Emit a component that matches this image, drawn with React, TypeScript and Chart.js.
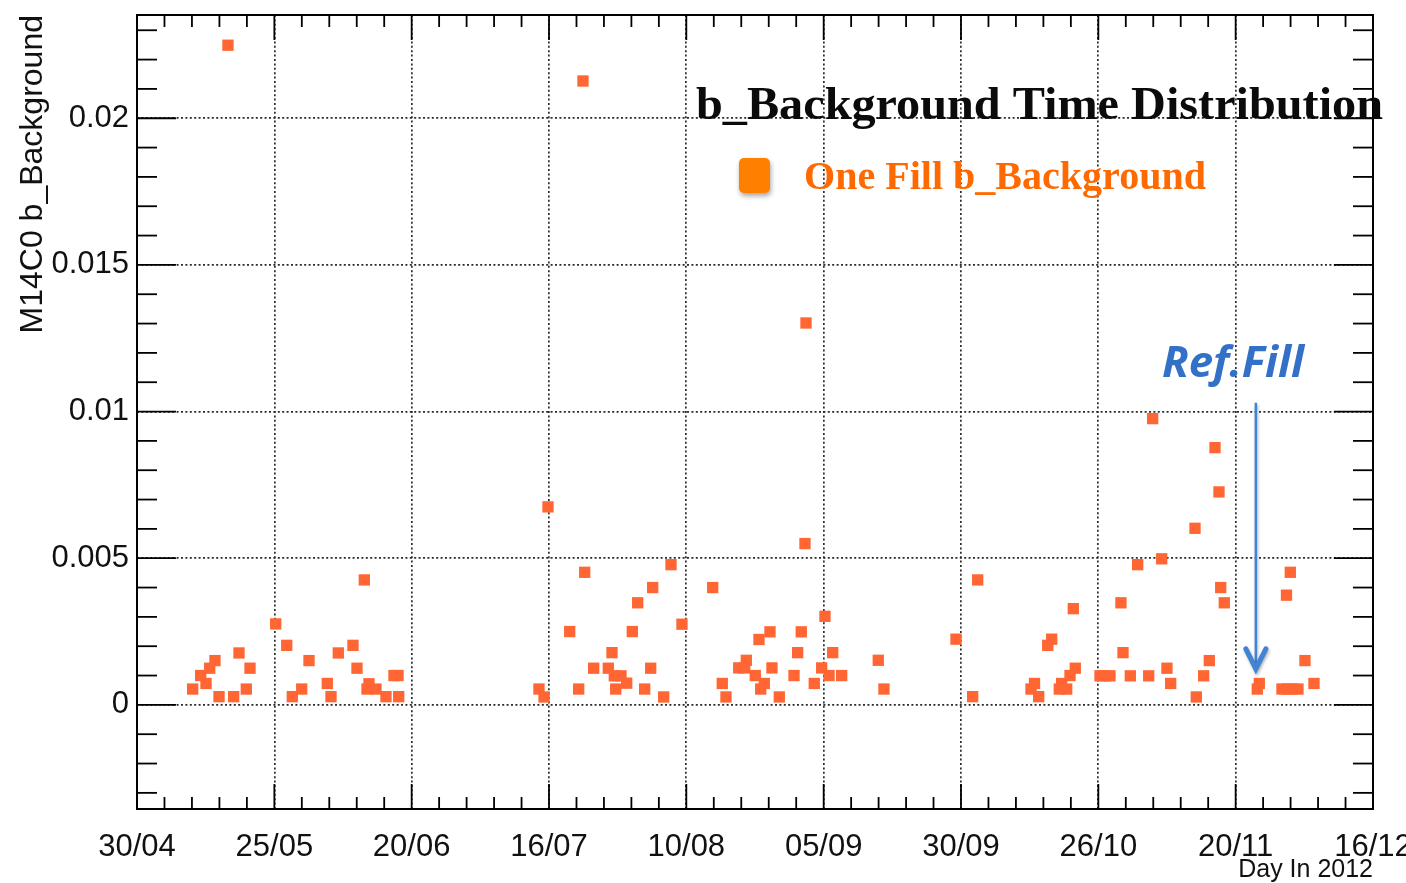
import React, { useEffect, useRef } from 'react';
import { Chart, registerables } from 'chart.js';

Chart.register(...registerables);

// Day of year 2012 for each fill (30/04 = day 121)
const fillDay: number[] = [
  131.36, 132.85, 133.84, 134.53, 135.51, 136.26, 137.93, 138.99, 139.98, 141.34,
  142.03, 146.81, 148.86, 149.9, 151.65, 153.01, 156.41, 157.1, 158.46, 161.19,
  161.94, 163.3, 163.8, 164.17, 165.47, 167.33, 168.82, 169.57, 169.7,
  195.8, 196.74, 197.48, 201.52, 203.19, 203.99, 204.31, 205.98, 208.7, 209.39,
  209.82, 210.08, 211.06, 212.12, 213.17, 214.17, 215.47, 216.59, 216.96, 219.01,
  220.37, 222.41, 228.13,
  229.91, 230.6, 232.97, 234.08, 234.38, 236.05, 236.74, 237.06, 237.73, 238.79,
  239.16, 240.52, 243.26, 243.94, 244.61, 245.3, 245.49, 247.03, 248.41, 249.02,
  249.77, 250.46, 252.13, 258.94, 260.0,
  273.4, 276.5, 277.44, 288.01, 287.36, 288.79, 290.47, 291.21, 292.62, 293.07,
  294.0, 294.62, 295.23, 295.6,
  300.2, 301.13, 302.05, 304.1, 304.48, 305.84, 307.21, 309.26, 310.0, 311.68,
  312.66, 313.35, 317.88, 318.12, 319.49, 320.54, 321.6, 322.34, 322.66, 323.33,
  329.47, 329.84, 334.06, 334.9, 334.99, 335.61, 336.1, 337.04, 338.34, 340.02,
];

const bBackground: number[] = [
  0.00054, 0.001, 0.00073, 0.00125, 0.00151, 0.00028, 0.02249, 0.00028, 0.00177, 0.00054,
  0.00125, 0.00276, 0.00203, 0.00028, 0.00054, 0.00151, 0.00073, 0.00028, 0.00177, 0.00203,
  0.00125, 0.00426, 0.00054, 0.00072, 0.00054, 0.00028, 0.001, 0.001, 0.00028,
  0.00054, 0.00027, 0.00675, 0.0025, 0.00054, 0.02127, 0.00452, 0.00125, 0.00125, 0.00178,
  0.00099, 0.00054, 0.00099, 0.00074, 0.0025, 0.00348, 0.00054, 0.00125, 0.004, 0.00027,
  0.00478, 0.00275, 0.004,
  0.00073, 0.00027, 0.00126, 0.00126, 0.00152, 0.001, 0.00223, 0.00054, 0.00073, 0.00249,
  0.00126, 0.00027, 0.001, 0.00178, 0.00249, 0.0055, 0.01302, 0.00073, 0.00126, 0.00302,
  0.001, 0.00178, 0.001, 0.00152, 0.00054,
  0.00224, 0.00028, 0.00426, 0.00073, 0.00054, 0.00028, 0.00203, 0.00224, 0.00054, 0.00073,
  0.00054, 0.001, 0.00328, 0.00125,
  0.00099, 0.00099, 0.00099, 0.00348, 0.00178, 0.00099, 0.00478, 0.00099, 0.00976, 0.00498,
  0.00125, 0.00073, 0.00602, 0.00027, 0.00099, 0.00151, 0.00877, 0.00726, 0.004, 0.00348,
  0.00054, 0.00073, 0.00054, 0.00374, 0.00054, 0.00452, 0.00054, 0.00054, 0.00151, 0.00073,
];

const xTickDays: number[] = [121, 146.56, 172.11, 197.67, 223.22, 248.78, 274.33, 299.89, 325.44, 351];
const xTickLabels: string[] = ['30/04', '25/05', '20/06', '16/07', '10/08', '05/09', '30/09', '26/10', '20/11', '16/12'];
const yTickValues: number[] = [0, 0.005, 0.01, 0.015, 0.02];
const yTickLabels: string[] = ['0', '0.005', '0.01', '0.015', '0.02'];

const X_MIN = 121;
const X_MAX = 351;
const Y_MIN = -0.00355;
const Y_MAX = 0.02352;

const refFillDay = 329.2;
const refArrowTop = 0.0103;
const refArrowTip = 0.00123;

const titleText = 'b_Background Time Distribution';
const legendText = 'One Fill b_Background';
const refText = 'Ref.Fill';

function fitText(ctx: CanvasRenderingContext2D, text: string, x: number, y: number, w: number) {
  const m = ctx.measureText(text).width;
  ctx.save();
  ctx.translate(x, y);
  ctx.scale(w / m, 1);
  ctx.fillText(text, 0, 0);
  ctx.restore();
}

const framePlugin = {
  id: 'rootFrame',
  afterDatasetsDraw(chart: any) {
    const { ctx, chartArea: a, scales } = chart;
    const x = scales.x;
    const y = scales.y;
    ctx.save();
    ctx.strokeStyle = '#000';
    ctx.lineWidth = 1.8;
    const line = (x1: number, y1: number, x2: number, y2: number) => {
      ctx.beginPath();
      ctx.moveTo(x1, y1);
      ctx.lineTo(x2, y2);
      ctx.stroke();
    };
    for (let i = 0; i < xTickDays.length; i++) {
      const v = xTickDays[i];
      const px = x.getPixelForValue(v);
      line(px, a.bottom, px, a.bottom - 25);
      line(px, a.top, px, a.top + 25);
      if (i < xTickDays.length - 1) {
        const step = (xTickDays[i + 1] - v) / 5;
        for (let k = 1; k < 5; k++) {
          const p = x.getPixelForValue(v + k * step);
          line(p, a.bottom, p, a.bottom - 12);
          line(p, a.top, p, a.top + 12);
        }
      }
    }
    for (let k = -3; k <= 23; k++) {
      const py = y.getPixelForValue(k * 0.001);
      const len = k % 5 === 0 ? 39 : 20;
      line(a.left, py, a.left + len, py);
      line(a.right, py, a.right - len, py);
    }
    ctx.lineWidth = 2;
    ctx.strokeRect(a.left, a.top, a.right - a.left, a.bottom - a.top);
    ctx.restore();

    // Title
    ctx.save();
    ctx.fillStyle = '#0b0b0b';
    ctx.textBaseline = 'alphabetic';
    ctx.textAlign = 'left';
    ctx.font = 'bold 47px "Liberation Serif", "DejaVu Serif", serif';
    fitText(ctx, titleText, 696, 119, 687);

    // Legend marker
    ctx.save();
    ctx.shadowColor = 'rgba(0,0,0,0.35)';
    ctx.shadowBlur = 5;
    ctx.shadowOffsetX = 1;
    ctx.shadowOffsetY = 3;
    ctx.fillStyle = '#FF7F00';
    ctx.beginPath();
    (ctx as any).roundRect(739, 158, 31, 35, 5);
    ctx.fill();
    ctx.restore();

    ctx.fillStyle = '#FF6A00';
    ctx.font = 'bold 40px "Liberation Serif", "DejaVu Serif", serif';
    fitText(ctx, legendText, 804, 189, 402);

    // Ref.Fill label
    ctx.fillStyle = '#3370C8';
    ctx.font = 'italic bold 43px "Open Sans", "Lato", sans-serif';
    fitText(ctx, refText, 1162, 377, 142);

    // Arrow
    const ax = x.getPixelForValue(refFillDay);
    const ay1 = y.getPixelForValue(refArrowTop);
    const ay2 = y.getPixelForValue(refArrowTip);
    ctx.shadowColor = 'rgba(0,0,0,0.3)';
    ctx.shadowBlur = 3;
    ctx.shadowOffsetX = 1;
    ctx.shadowOffsetY = 2;
    ctx.strokeStyle = '#4284D3';
    ctx.lineWidth = 2.5;
    ctx.beginPath();
    ctx.moveTo(ax, ay1);
    ctx.lineTo(ax, ay2 - 2);
    ctx.stroke();
    ctx.lineWidth = 5;
    ctx.lineCap = 'round';
    ctx.lineJoin = 'miter';
    ctx.beginPath();
    ctx.moveTo(ax - 10, ay2 - 20);
    ctx.lineTo(ax, ay2);
    ctx.lineTo(ax + 10, ay2 - 20);
    ctx.stroke();
    ctx.restore();
  },
};

export default function App() {
  const canvasRef = useRef<HTMLCanvasElement | null>(null);

  useEffect(() => {
    if (!canvasRef.current) return;
    const points = fillDay.map((d, i) => ({ x: d, y: bBackground[i] }));
    const gridDash = [2, 2.4];
    const chart = new Chart(canvasRef.current, {
      type: 'scatter',
      data: {
        datasets: [
          {
            label: legendText,
            data: points,
            pointStyle: 'rect',
            pointRadius: 8,
            pointHoverRadius: 8,
            pointBorderWidth: 0,
            backgroundColor: '#FF6633',
            borderColor: '#FF6633',
            showLine: false,
          },
        ],
      },
      options: {
        responsive: false,
        animation: false,
        events: [],
        layout: { padding: { top: 15, right: 33, left: 0, bottom: 0 } },
        plugins: {
          legend: { display: false },
          tooltip: { enabled: false },
          title: { display: false },
        },
        scales: {
          x: {
            type: 'linear',
            min: X_MIN,
            max: X_MAX,
            afterBuildTicks: (s: any) => {
              s.ticks = xTickDays.map((v) => ({ value: v }));
            },
            afterFit: (s: any) => {
              s.height = 74;
              s.paddingLeft = 0;
              s.paddingRight = 0;
            },
            ticks: {
              callback: (_v: any, i: number) => xTickLabels[i],
              autoSkip: false,
              maxRotation: 0,
              minRotation: 0,
              padding: 20,
              color: '#111',
              font: { family: '"Liberation Sans", Arial, sans-serif', size: 31 },
            },
            grid: { color: '#2a2a2a', lineWidth: 1.7, drawTicks: false },
            border: { display: false, dash: gridDash },
            title: {
              display: true,
              text: 'Day In 2012',
              align: 'end',
              color: '#111',
              font: { family: '"Liberation Sans", Arial, sans-serif', size: 25, lineHeight: 1 },
              padding: { top: 0, bottom: 0 },
            },
          },
          y: {
            type: 'linear',
            min: Y_MIN,
            max: Y_MAX,
            afterBuildTicks: (s: any) => {
              s.ticks = yTickValues.map((v) => ({ value: v }));
            },
            afterFit: (s: any) => {
              s.width = 137;
              s.paddingTop = 0;
              s.paddingBottom = 0;
            },
            ticks: {
              callback: (_v: any, i: number) => yTickLabels[i],
              padding: 8,
              color: '#111',
              font: { family: '"Liberation Sans", Arial, sans-serif', size: 31 },
            },
            grid: { color: '#2a2a2a', lineWidth: 1.7, drawTicks: false },
            border: { display: false, dash: gridDash },
            title: {
              display: true,
              text: 'M14C0 b_Background',
              align: 'end',
              color: '#111',
              font: { family: '"Liberation Sans", Arial, sans-serif', size: 32, lineHeight: 1 },
              padding: { top: 17.5, bottom: 0 },
            },
          },
        },
      } as any,
      plugins: [framePlugin],
    });
    return () => chart.destroy();
  }, []);

  return (
    <div style={{ position: 'absolute', left: 0, top: 0, width: 1406, height: 883, background: '#fff' }}>
      <canvas ref={canvasRef} width={1406} height={883} style={{ display: 'block' }} />
    </div>
  );
}
